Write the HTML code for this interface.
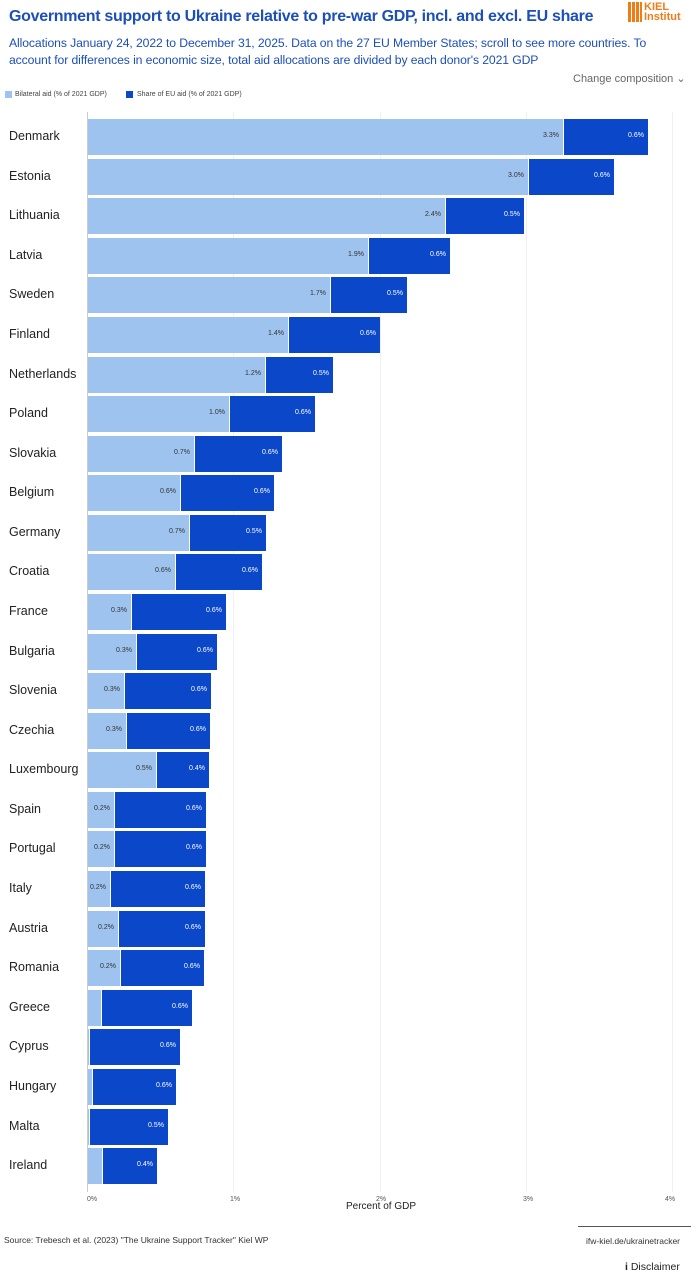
<!DOCTYPE html>
<html><head><meta charset="utf-8"><style>
body{margin:0;width:691px;height:1280px;background:#fff;font-family:"Liberation Sans",sans-serif;position:relative;overflow:hidden}
.a{position:absolute}
.t{left:9px;top:8px;font-size:16px;font-weight:bold;color:#1c4fb8;white-space:nowrap;letter-spacing:-0.3px}
.s{left:9px;top:35px;font-size:12.2px;color:#1c4fb8;line-height:17px;width:680px;letter-spacing:-0.1px}
.g{position:absolute;top:112px;height:1080px;width:1px;background:#f0f0f0}
.r{position:absolute;left:0;width:691px;height:36px}
.n{position:absolute;left:9px;top:10px;font-size:12.5px;font-weight:400;color:#222}
.l{position:absolute;left:88px;top:0;height:36px;background:#9ec3ee;border-right:1px solid #fff}
.d{position:absolute;top:0;height:36px;background:#0a47c9}
.l span,.d span{position:absolute;right:4px;top:13px;font-size:7px}
.l span{color:#333}.d span{color:#fff}
.x{position:absolute;top:1196px;font-size:7px;color:#555}
</style></head><body>
<div class="a t">Government support to Ukraine relative to pre-war GDP, incl. and excl. EU share</div>
<div class="a" style="left:628px;top:2px;width:14px;height:20px;background:repeating-linear-gradient(90deg,#f07c18 0 3px,#fff 3px 4px)"></div>
<div class="a" style="left:644px;top:2px;font-size:11px;line-height:10px;color:#f07c18;font-weight:bold">KIEL<br>Institut</div>
<div class="a s">Allocations January 24, 2022 to December 31, 2025. Data on the 27 EU Member States; scroll to see more countries. To account for differences in economic size, total aid allocations are divided by each donor's 2021 GDP</div>
<div class="a" style="left:573px;top:72px;font-size:11px;color:#666">Change composition ⌄</div>
<div class="a" style="left:5px;top:91px;width:7px;height:7px;background:#9ec3ee"></div>
<div class="a" style="left:15px;top:91px;font-size:7px;color:#444">Bilateral aid (% of 2021 GDP)</div>
<div class="a" style="left:126px;top:91px;width:7px;height:7px;background:#0a47c9"></div>
<div class="a" style="left:137px;top:91px;font-size:7px;color:#444">Share of EU aid (% of 2021 GDP)</div>
<div class="g" style="left:87px;background:#ccc"></div><div class="g" style="left:233px"></div><div class="g" style="left:380px"></div><div class="g" style="left:526px"></div><div class="g" style="left:672px"></div>

<div class="r" style="top:119px"><div class="n">Denmark</div><div class="l" style="width:475px"><span>3.3%</span></div><div class="d" style="left:564px;width:84px"><span>0.6%</span></div></div>
<div class="r" style="top:158.6px"><div class="n">Estonia</div><div class="l" style="width:440px"><span>3.0%</span></div><div class="d" style="left:529px;width:85px"><span>0.6%</span></div></div>
<div class="r" style="top:198.2px"><div class="n">Lithuania</div><div class="l" style="width:357px"><span>2.4%</span></div><div class="d" style="left:446px;width:78px"><span>0.5%</span></div></div>
<div class="r" style="top:237.7px"><div class="n">Latvia</div><div class="l" style="width:280px"><span>1.9%</span></div><div class="d" style="left:369px;width:81px"><span>0.6%</span></div></div>
<div class="r" style="top:277.3px"><div class="n">Sweden</div><div class="l" style="width:242px"><span>1.7%</span></div><div class="d" style="left:331px;width:76px"><span>0.5%</span></div></div>
<div class="r" style="top:316.9px"><div class="n">Finland</div><div class="l" style="width:200px"><span>1.4%</span></div><div class="d" style="left:289px;width:91px"><span>0.6%</span></div></div>
<div class="r" style="top:356.5px"><div class="n">Netherlands</div><div class="l" style="width:177px"><span>1.2%</span></div><div class="d" style="left:266px;width:67px"><span>0.5%</span></div></div>
<div class="r" style="top:396.1px"><div class="n">Poland</div><div class="l" style="width:141px"><span>1.0%</span></div><div class="d" style="left:230px;width:85px"><span>0.6%</span></div></div>
<div class="r" style="top:435.6px"><div class="n">Slovakia</div><div class="l" style="width:106px"><span>0.7%</span></div><div class="d" style="left:195px;width:87px"><span>0.6%</span></div></div>
<div class="r" style="top:475.2px"><div class="n">Belgium</div><div class="l" style="width:92px"><span>0.6%</span></div><div class="d" style="left:181px;width:93px"><span>0.6%</span></div></div>
<div class="r" style="top:514.8px"><div class="n">Germany</div><div class="l" style="width:101px"><span>0.7%</span></div><div class="d" style="left:190px;width:76px"><span>0.5%</span></div></div>
<div class="r" style="top:554.4px"><div class="n">Croatia</div><div class="l" style="width:87px"><span>0.6%</span></div><div class="d" style="left:176px;width:86px"><span>0.6%</span></div></div>
<div class="r" style="top:594px"><div class="n">France</div><div class="l" style="width:43px"><span>0.3%</span></div><div class="d" style="left:132px;width:94px"><span>0.6%</span></div></div>
<div class="r" style="top:633.5px"><div class="n">Bulgaria</div><div class="l" style="width:48px"><span>0.3%</span></div><div class="d" style="left:137px;width:80px"><span>0.6%</span></div></div>
<div class="r" style="top:673.1px"><div class="n">Slovenia</div><div class="l" style="width:36px"><span>0.3%</span></div><div class="d" style="left:125px;width:86px"><span>0.6%</span></div></div>
<div class="r" style="top:712.7px"><div class="n">Czechia</div><div class="l" style="width:38px"><span>0.3%</span></div><div class="d" style="left:127px;width:83px"><span>0.6%</span></div></div>
<div class="r" style="top:752.3px"><div class="n">Luxembourg</div><div class="l" style="width:68px"><span>0.5%</span></div><div class="d" style="left:157px;width:52px"><span>0.4%</span></div></div>
<div class="r" style="top:791.9px"><div class="n">Spain</div><div class="l" style="width:26px"><span>0.2%</span></div><div class="d" style="left:115px;width:91px"><span>0.6%</span></div></div>
<div class="r" style="top:831.4px"><div class="n">Portugal</div><div class="l" style="width:26px"><span>0.2%</span></div><div class="d" style="left:115px;width:91px"><span>0.6%</span></div></div>
<div class="r" style="top:871px"><div class="n">Italy</div><div class="l" style="width:22px"><span>0.2%</span></div><div class="d" style="left:111px;width:94px"><span>0.6%</span></div></div>
<div class="r" style="top:910.6px"><div class="n">Austria</div><div class="l" style="width:30px"><span>0.2%</span></div><div class="d" style="left:119px;width:86px"><span>0.6%</span></div></div>
<div class="r" style="top:950.2px"><div class="n">Romania</div><div class="l" style="width:32px"><span>0.2%</span></div><div class="d" style="left:121px;width:83px"><span>0.6%</span></div></div>
<div class="r" style="top:989.8px"><div class="n">Greece</div><div class="l" style="width:13px"></div><div class="d" style="left:102px;width:90px"><span>0.6%</span></div></div>
<div class="r" style="top:1029.3px"><div class="n">Cyprus</div><div class="l" style="width:1px"></div><div class="d" style="left:90px;width:90px"><span>0.6%</span></div></div>
<div class="r" style="top:1068.9px"><div class="n">Hungary</div><div class="l" style="width:4px"></div><div class="d" style="left:93px;width:83px"><span>0.6%</span></div></div>
<div class="r" style="top:1108.5px"><div class="n">Malta</div><div class="l" style="width:1px"></div><div class="d" style="left:90px;width:78px"><span>0.5%</span></div></div>
<div class="r" style="top:1148.1px"><div class="n">Ireland</div><div class="l" style="width:14px"></div><div class="d" style="left:103px;width:54px"><span>0.4%</span></div></div>

<div class="x" style="left:87px">0%</div><div class="x" style="left:230px">1%</div><div class="x" style="left:376px">2%</div><div class="x" style="left:523px">3%</div><div class="x" style="left:665px">4%</div>
<div class="a" style="left:346px;top:1201px;font-size:10px;color:#222">Percent of GDP</div>
<div class="a" style="left:578px;top:1226px;width:113px;height:1px;background:#555"></div>
<div class="a" style="left:4px;top:1235px;font-size:8.5px;color:#333">Source: Trebesch et al. (2023) "The Ukraine Support Tracker" Kiel WP</div>
<div class="a" style="left:586px;top:1236px;font-size:8.5px;color:#333">ifw-kiel.de/ukrainetracker</div>
<div class="a" style="left:625px;top:1261px;font-size:10.5px;color:#222"><b>i</b> Disclaimer</div>
</body></html>
